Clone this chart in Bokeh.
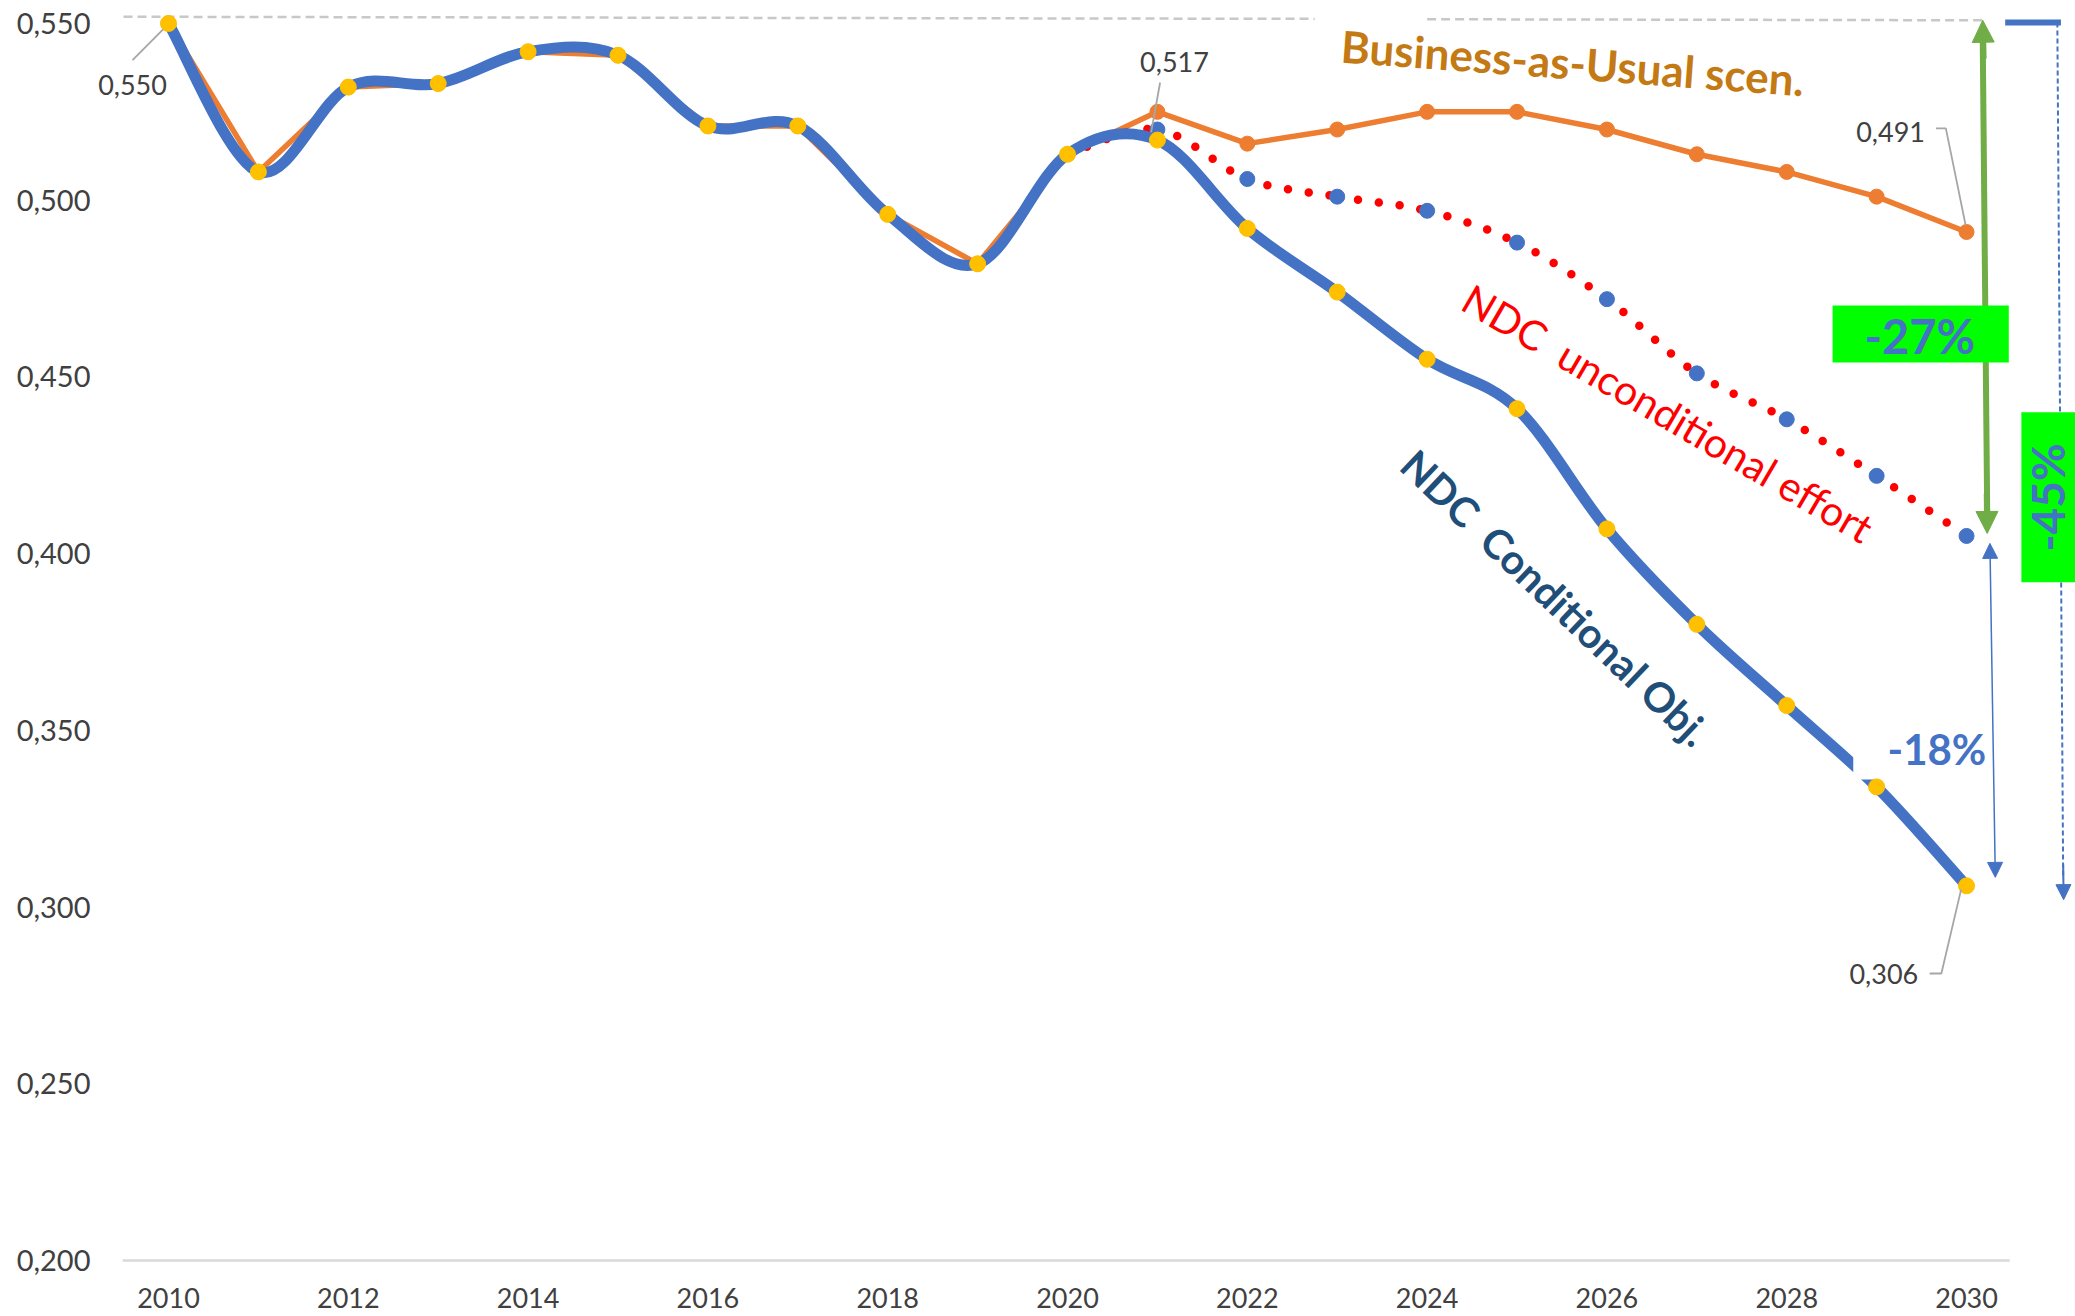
from bokeh.plotting import figure
from bokeh.models import Range1d, FixedTicker, Arrow, NormalHead
from bokeh.core.properties import value
from bokeh.embed import file_html
from bokeh.resources import INLINE
import math

# ---------------- data ----------------
years_hist = [2010, 2011, 2012, 2013, 2014, 2015, 2016, 2017, 2018, 2019, 2020]
hist = [0.550, 0.508, 0.532, 0.533, 0.542, 0.541, 0.521, 0.521, 0.496, 0.482, 0.513]

years_proj = [2021, 2022, 2023, 2024, 2025, 2026, 2027, 2028, 2029, 2030]
bau_proj = [0.525, 0.516, 0.520, 0.525, 0.525, 0.520, 0.513, 0.508, 0.501, 0.491]
cond_proj = [0.517, 0.492, 0.474, 0.455, 0.441, 0.407, 0.380, 0.357, 0.334, 0.306]
uncond_proj = [0.520, 0.506, 0.501, 0.497, 0.488, 0.472, 0.451, 0.438, 0.422, 0.405]

x_ticks = [2010, 2012, 2014, 2016, 2018, 2020, 2022, 2024, 2026, 2028, 2030]
y_ticks = [0.2, 0.25, 0.3, 0.35, 0.4, 0.45, 0.5, 0.55]
y_tick_labels = ["0,200", "0,250", "0,300", "0,350", "0,400", "0,450", "0,500", "0,550"]

FONT = "Lato"
BLUE = "#4472C4"
ORANGE = "#ED7D31"
YELLOW = "#FFC000"
GREEN_BOX = "#00FF00"
GREEN_ARROW = "#70AD47"
GRAY_TXT = "#404040"
NB = "\u00a0"

years_all = years_hist + years_proj
bau_all = hist + bau_proj
cond_all = hist + cond_proj
years_unc = [years_hist[-1]] + years_proj
unc_all = [hist[-1]] + uncond_proj


def fmt(v):
    return f"{v:.3f}".replace(".", ",")


def bezier_data(xs, ys):
    n = len(xs)
    d = dict(x0=[], y0=[], x1=[], y1=[], cx0=[], cy0=[], cx1=[], cy1=[])
    for i in range(n - 1):
        xm, ym = (xs[i - 1], ys[i - 1]) if i > 0 else (xs[i], ys[i])
        xp, yp = (xs[i + 2], ys[i + 2]) if i + 2 < n else (xs[i + 1], ys[i + 1])
        d["x0"].append(xs[i]); d["y0"].append(ys[i])
        d["x1"].append(xs[i + 1]); d["y1"].append(ys[i + 1])
        d["cx0"].append(xs[i] + (xs[i + 1] - xm) / 6.0)
        d["cy0"].append(ys[i] + (ys[i + 1] - ym) / 6.0)
        d["cx1"].append(xs[i + 1] - (xp - xs[i]) / 6.0)
        d["cy1"].append(ys[i + 1] - (yp - ys[i]) / 6.0)
    return d


# ---------------- figure ----------------
p = figure(width=2075, height=1316,
           x_range=Range1d(2009.188, 2031.212),
           y_range=Range1d(0.19717, 0.5565),
           output_backend="svg", toolbar_location=None,
           min_border_left=95, min_border_right=0,
           min_border_top=0, min_border_bottom=46)
p.outline_line_color = None
p.xgrid.visible = False
p.ygrid.visible = False
p.background_fill_color = "white"
p.border_fill_color = "white"

for ax in (p.xaxis, p.yaxis):
    ax.axis_line_color = None
    ax.major_tick_line_color = None
    ax.minor_tick_line_color = None
    ax.major_tick_out = 0
    ax.major_tick_in = 0
    ax.major_label_text_font = FONT
    ax.major_label_text_color = GRAY_TXT

p.xaxis.major_label_text_font_size = "27px"
p.yaxis.major_label_text_font_size = "29px"
p.xaxis.ticker = FixedTicker(ticks=x_ticks)
p.xaxis.major_label_standoff = 17
p.yaxis.ticker = FixedTicker(ticks=y_ticks)
p.yaxis.major_label_overrides = dict(zip(y_ticks, y_tick_labels))
p.yaxis.major_label_standoff = 5

# baseline (category axis line)
p.line([2009.49, 2030.48], [0.2, 0.2], line_color="#D9D9D9", line_width=2.5)

# top dashed gray reference line
p.line([2009.5, 2022.75], [0.5519, 0.5513], line_color="#C8C8C8", line_width=2.5, line_dash="9 5")
p.line([2024.0, 2030.2], [0.5512, 0.5509], line_color="#C8C8C8", line_width=2.5, line_dash="9 5")

# BAU
p.line(years_all, bau_all, line_color=ORANGE, line_width=5.5, line_join="round")
p.scatter(years_all, bau_all, size=15, fill_color=ORANGE, line_color=ORANGE)

# Unconditional (red dotted, smoothed)
bu = bezier_data(years_unc, unc_all)
p.bezier(x0=bu["x0"], y0=bu["y0"], x1=bu["x1"], y1=bu["y1"],
         cx0=bu["cx0"], cy0=bu["cy0"], cx1=bu["cx1"], cy1=bu["cy1"],
         line_color="#FF0000", line_width=8.5, line_dash="0 21", line_cap="round")
p.scatter(years_proj, uncond_proj, size=15, fill_color=BLUE, line_color=BLUE)

# Conditional (thick blue smoothed)
bc = bezier_data(years_all, cond_all)
p.bezier(x0=bc["x0"], y0=bc["y0"], x1=bc["x1"], y1=bc["y1"],
         cx0=bc["cx0"], cy0=bc["cy0"], cx1=bc["cx1"], cy1=bc["cy1"],
         line_color=BLUE, line_width=11, line_cap="round")

# white text box of the -18% label
p.quad(left=[2028.74], right=[2030.0], top=[0.3542], bottom=[0.3361],
       fill_color="white", line_color=None)

p.scatter(years_all, cond_all, size=16, fill_color=YELLOW, line_color=YELLOW)

# data labels with leader lines
LEAD = "#A6A6A6"
p.line([2009.6, 2009.94], [0.5396, 0.5483], line_color=LEAD, line_width=1.8)
p.line([2021.03, 2020.93], [0.5333, 0.5192], line_color=LEAD, line_width=1.8)
p.line([2029.66, 2029.77, 2029.99], [0.5203, 0.5203, 0.4929], line_color=LEAD, line_width=1.8)
p.line([2029.59, 2029.72, 2029.94], [0.2812, 0.2812, 0.3050], line_color=LEAD, line_width=1.8)

lab_x = [2009.6, 2021.19, 2029.155, 2029.08]
lab_y = [0.5325, 0.5390, 0.5192, 0.2812]
lab_t = [fmt(hist[0]), fmt(cond_proj[0]), fmt(bau_proj[-1]), fmt(cond_proj[-1])]
p.text(lab_x, lab_y, text=lab_t, text_font=value(FONT), text_font_size="27px",
       text_color=GRAY_TXT, text_align="center", text_baseline="middle")

# scenario captions
p.text([2025.62], [0.5390], text=["Business-as-Usual scen."], angle=-0.073,
       text_font=value(FONT), text_font_size="44px", text_font_style="bold",
       text_color="#C47A14", text_align="center", text_baseline="middle")
p.text([2026.68], [0.4397], text=["NDC" + NB + " unconditional effort"], angle=-0.53,
       text_font=value(FONT), text_font_size="41px",
       text_color="#FF0000", text_align="center", text_baseline="middle")
p.text([2025.43], [0.3875], text=["NDC" + NB + " Conditional Obj."], angle=-0.76,
       text_font=value(FONT), text_font_size="41px", text_font_style="bold",
       text_color="#1F4E79", text_align="center", text_baseline="middle")

# arrow shafts (drawn below the green boxes)
p.line([2030.18, 2030.23], [0.5460, 0.4110], line_color=GREEN_ARROW, line_width=6)
p.line([2031.01, 2031.075], [0.5503, 0.3080], line_color=BLUE, line_width=2, line_dash="5 3")

# green boxes
p.quad(left=[2028.51], right=[2030.47], top=[0.4702], bottom=[0.4541],
       fill_color=GREEN_BOX, line_color=None)
p.text([2029.48], [0.4617], text=["-27%"], text_font=value(FONT), text_font_size="47px",
       text_font_style="bold", text_color=BLUE, text_align="center", text_baseline="middle")
p.quad(left=[2030.61], right=[2031.4], top=[0.4400], bottom=[0.3919],
       fill_color=GREEN_BOX, line_color=None)
p.text([2030.90], [0.4159], text=["-45%"], angle=math.pi / 2, text_font=value(FONT),
       text_font_size="46px", text_font_style="bold", text_color=BLUE,
       text_align="center", text_baseline="middle")
p.text([2029.67], [0.3446], text=["-18%"], text_font=value(FONT), text_font_size="42px",
       text_font_style="bold", text_color=BLUE, text_align="center", text_baseline="middle")

# arrow heads
gh = dict(size=22, fill_color=GREEN_ARROW, line_color=GREEN_ARROW)
p.add_layout(Arrow(x_start=2030.19, y_start=0.5400, x_end=2030.18, y_end=0.5509,
                   line_color=GREEN_ARROW, line_width=6, start=None, end=NormalHead(**gh)))
p.add_layout(Arrow(x_start=2030.225, y_start=0.4170, x_end=2030.23, y_end=0.4057,
                   line_color=GREEN_ARROW, line_width=6, start=None, end=NormalHead(**gh)))
p.add_layout(Arrow(x_start=2030.26, y_start=0.4029, x_end=2030.32, y_end=0.3084,
                   line_color=BLUE, line_width=1.5,
                   start=NormalHead(size=15, fill_color=BLUE, line_color=BLUE),
                   end=NormalHead(size=15, fill_color=BLUE, line_color=BLUE)))
p.add_layout(Arrow(x_start=2031.075, y_start=0.3120, x_end=2031.08, y_end=0.3021,
                   line_color=BLUE, line_width=2, start=None,
                   end=NormalHead(size=15, fill_color=BLUE, line_color=BLUE)))
p.line([2030.43, 2031.05], [0.5503, 0.5503], line_color=BLUE, line_width=6)

open("out.html", "w").write(file_html(p, INLINE))
